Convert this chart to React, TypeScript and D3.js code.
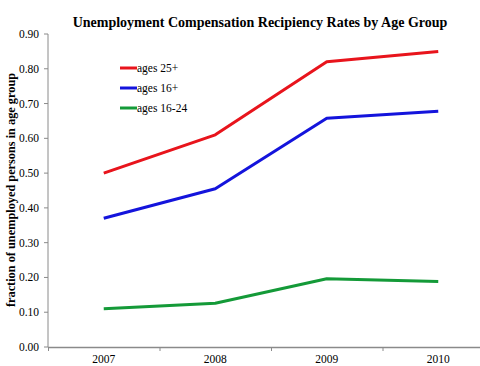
import React from "react";
import * as d3 from "d3";

const years = ["2007", "2008", "2009", "2010"];
const ages25plus = [0.50, 0.61, 0.82, 0.85];
const ages16plus = [0.37, 0.455, 0.658, 0.678];
const ages16to24 = [0.11, 0.126, 0.196, 0.188];
const yTicks = [0, 0.1, 0.2, 0.3, 0.4, 0.5, 0.6, 0.7, 0.8, 0.9];
const seriesNames = ["ages 25+", "ages 16+", "ages 16-24"];
const seriesColors = ["#e8141c", "#1414dc", "#149a38"];

export default function App() {
  const W = 480, H = 366;
  const x = d3.scaleBand<string>().domain(years).range([48, 494]);
  const y = d3.scaleLinear().domain([0, 0.9]).range([347, 34]);
  const line = d3.line<number>()
    .x((_, i) => (x(years[i]) as number) + x.bandwidth() / 2)
    .y((d) => y(d));
  const series = [ages25plus, ages16plus, ages16to24];
  const font = "'Liberation Serif', 'Times New Roman', serif";
  return (
    <svg width={W} height={H} style={{ position: "absolute", left: 0, top: 0, background: "#fff" }} fontFamily={font}>
      <text x={260} y={27} textAnchor="middle" fontSize={14} fontWeight="bold">
        Unemployment Compensation Recipiency Rates by Age Group
      </text>
      <text transform="translate(15,190) rotate(-90)" textAnchor="middle" fontSize={12.3} fontWeight="bold">
        fraction of unemployed persons in age group
      </text>
      {/* y axis */}
      <line x1={48} x2={48} y1={y(0.9)} y2={y(0)} stroke="#8a8a8a" strokeWidth={1} />
      {yTicks.map((t) => (
        <g key={t}>
          <line x1={44} x2={48} y1={y(t)} y2={y(t)} stroke="#8a8a8a" />
          <text x={39} y={y(t) + 4} textAnchor="end" fontSize={11.5}>{t.toFixed(2)}</text>
        </g>
      ))}
      {/* x axis */}
      <line x1={48} x2={480} y1={y(0) + 0.5} y2={y(0) + 0.5} stroke="#8a8a8a" strokeWidth={1.5} />
      {years.map((yr, i) => (
        <g key={yr}>
          <line x1={(x(yr) as number) + 0.5} x2={(x(yr) as number) + 0.5} y1={y(0)} y2={y(0) + 4} stroke="#8a8a8a" />
          <text x={(x(yr) as number) + x.bandwidth() / 2} y={363} textAnchor="middle" fontSize={11.5}>{yr}</text>
        </g>
      ))}
      {series.map((s, i) => (
        <path key={i} d={line(s) || ""} fill="none" stroke={seriesColors[i]} strokeWidth={3} strokeLinejoin="round" />
      ))}
      {seriesNames.map((n, i) => (
        <g key={n}>
          <line x1={120} x2={137} y1={68 + i * 20} y2={68 + i * 20} stroke={seriesColors[i]} strokeWidth={3} />
          <text x={137} y={72 + i * 20} fontSize={11.5}>{n}</text>
        </g>
      ))}
    </svg>
  );
}
